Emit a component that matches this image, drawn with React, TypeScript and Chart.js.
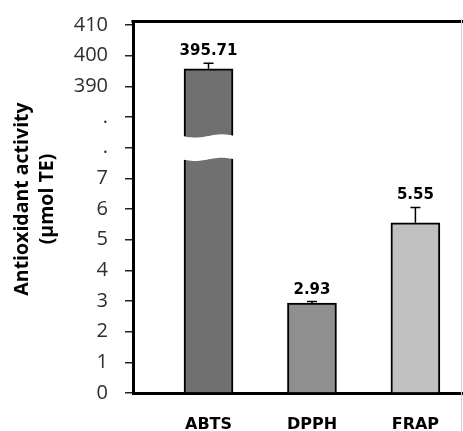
import React, { useEffect, useRef } from 'react';
import { Chart, registerables } from 'chart.js';

Chart.register(...registerables);

// ---- data ----
const categories = ['ABTS', 'DPPH', 'FRAP'];
const values = [395.71, 2.93, 5.55];
const errors = [1.8, 0.05, 0.5];
const valueLabels = ['395.71', '2.93', '5.55'];
const barColors = ['#707070', '#8f8f8f', '#c0c0c0'];
const tickLabels = ['0', '1', '2', '3', '4', '5', '6', '7', '.', '.', '390', '400', '410'];
const yTitle = ['Antioxidant activity', '(µmol TE)'];

// broken axis: 0–7 linear, two break slots, then 390–410 in steps of 10
const LOWER_MAX = 7;
const BREAK_POS = 8;
const UPPER_POS = 10;
const UPPER_BASE = 390;
const UPPER_STEP = 10;
const toAxis = (v: number) =>
  v <= LOWER_MAX + 1 ? v : UPPER_POS + (v - UPPER_BASE) / UPPER_STEP;

const overlayPlugin = {
  id: 'overlay',
  afterDatasetsDraw(chart: any) {
    const { ctx } = chart;
    const yScale = chart.scales.y;
    const meta = chart.getDatasetMeta(0);
    ctx.save();
    // error bars
    meta.data.forEach((el: any, i: number) => {
      const yTop = yScale.getPixelForValue(toAxis(values[i] + errors[i]));
      ctx.strokeStyle = '#000';
      ctx.lineWidth = 1.5;
      ctx.beginPath();
      ctx.moveTo(el.x, el.y);
      ctx.lineTo(el.x, yTop);
      ctx.moveTo(el.x - 5, yTop);
      ctx.lineTo(el.x + 5, yTop);
      ctx.stroke();
    });
    // axis break band on bars that exceed the lower segment
    meta.data.forEach((el: any, i: number) => {
      if (values[i] <= LOWER_MAX) return;
      const c = yScale.getPixelForValue(BREAK_POS);
      const x0 = el.x - el.width / 2 - 2;
      const x1 = el.x + el.width / 2 + 2;
      const half = 11.7;
      const amp = 1.6;
      const n = 30;
      ctx.fillStyle = '#fff';
      ctx.beginPath();
      for (let k = 0; k <= n; k++) {
        const t = k / n;
        const x = x0 + (x1 - x0) * t;
        const y = c - half + amp * Math.sin(2 * Math.PI * t);
        if (k === 0) ctx.moveTo(x, y);
        else ctx.lineTo(x, y);
      }
      for (let k = n; k >= 0; k--) {
        const t = k / n;
        const x = x0 + (x1 - x0) * t;
        const y = c + half + amp * Math.sin(2 * Math.PI * t);
        ctx.lineTo(x, y);
      }
      ctx.closePath();
      ctx.fill();
    });
    // value labels
    ctx.fillStyle = '#000';
    ctx.font = 'bold 15px "DejaVu Sans"';
    ctx.textAlign = 'center';
    ctx.textBaseline = 'alphabetic';
    meta.data.forEach((el: any, i: number) => {
      const yTop = yScale.getPixelForValue(toAxis(values[i] + errors[i]));
      ctx.fillText(valueLabels[i], el.x, yTop - 8);
    });
    ctx.restore();
  },
  afterDraw(chart: any) {
    const { ctx, chartArea, width } = chart;
    ctx.save();
    // top frame line
    ctx.strokeStyle = '#000';
    ctx.lineWidth = 3;
    ctx.beginPath();
    ctx.moveTo(chartArea.left - 1.5, chartArea.top + 0.5);
    ctx.lineTo(width, chartArea.top + 0.5);
    ctx.stroke();
    // faint right edge
    ctx.strokeStyle = '#d0d0d0';
    ctx.lineWidth = 1;
    ctx.beginPath();
    ctx.moveTo(width - 1.5, chartArea.top - 2);
    ctx.lineTo(width - 1.5, 431);
    ctx.stroke();
    // y-axis title
    ctx.fillStyle = '#000';
    ctx.font = 'bold 19.5px "Open Sans"';
    ctx.textAlign = 'center';
    ctx.textBaseline = 'alphabetic';
    const cy = 199;
    const baselines = [28, 53];
    yTitle.forEach((line, i) => {
      ctx.save();
      ctx.translate(baselines[i], cy);
      ctx.rotate(-Math.PI / 2);
      ctx.fillText(line, 0, 0);
      ctx.restore();
    });
    ctx.restore();
  },
};

export default function App() {
  const ref = useRef<HTMLCanvasElement>(null);

  useEffect(() => {
    if (!ref.current) return;
    const chart = new Chart(ref.current, {
      type: 'bar',
      data: {
        datasets: [
          {
            data: values.map((v, i) => ({ x: i, y: toAxis(v) })),
            backgroundColor: barColors,
            borderColor: '#000',
            borderWidth: 2,
            barThickness: 49,
          },
        ],
      },
      options: {
        animation: false,
        responsive: false,
        devicePixelRatio: 1,
        layout: { padding: { top: 21, right: 0, left: 0, bottom: 0 } },
        plugins: { legend: { display: false }, tooltip: { enabled: false } },
        scales: {
          x: {
            type: 'linear',
            min: -0.73,
            max: 2.46,
            offset: false,
            afterBuildTicks: (scale: any) => {
              scale.ticks = categories.map((_, i) => ({ value: i }));
            },
            afterFit: (scale: any) => {
              scale.height = 38;
              scale.paddingLeft = 0;
              scale.paddingRight = 0;
            },
            grid: { display: true, drawOnChartArea: false, drawTicks: false, offset: false },
            border: { display: true, color: '#000', width: 3 },
            ticks: {
              callback: (v: any) => categories[v] ?? '',
              font: { family: 'DejaVu Sans', size: 16, weight: 'bold' },
              color: '#000',
              padding: 22,
              maxRotation: 0,
              autoSkip: false,
            },
          },
          y: {
            type: 'linear',
            min: 0,
            max: 12.13,
            afterBuildTicks: (scale: any) => {
              scale.ticks = tickLabels.map((_, i) => ({ value: i }));
            },
            afterFit: (scale: any) => {
              scale.width = 133;
              scale.paddingTop = 0;
              scale.paddingBottom = 0;
            },
            grid: {
              display: true,
              drawOnChartArea: false,
              drawTicks: true,
              tickLength: 8,
              color: '#222',
              lineWidth: 1.5,
            },
            border: { display: true, color: '#000', width: 3 },
            ticks: {
              callback: (v: any) => tickLabels[v] ?? '',
              font: { family: 'Open Sans', size: 20 },
              color: '#2e2e2e',
              padding: 17,
              autoSkip: false,
            },
          },
        },
      },
      plugins: [overlayPlugin],
    } as any);
    return () => chart.destroy();
  }, []);

  return (
    <div style={{ position: 'absolute', left: 0, top: 0, width: 463, height: 431, background: '#fff' }}>
      <canvas ref={ref} width={463} height={431} />
    </div>
  );
}
